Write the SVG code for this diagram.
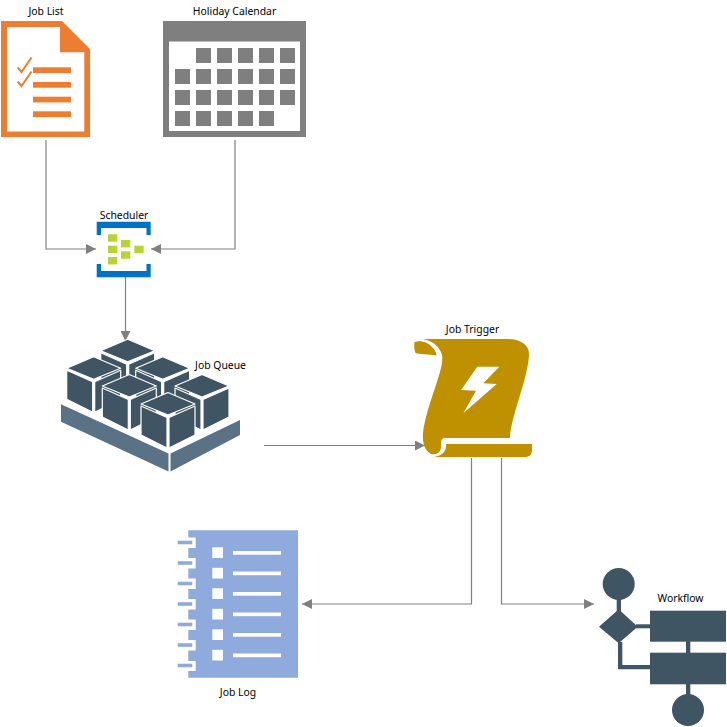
<svg xmlns="http://www.w3.org/2000/svg" width="727" height="727" viewBox="0 0 727 727">
<style>
text{font-family:"Noto Sans","Open Sans","Liberation Sans",sans-serif;font-size:10.4px;fill:#000;text-anchor:middle}
.conn{fill:none;stroke:#808080;stroke-width:1.2}
.orange{fill:#ed7d31}
.gray{fill:#7f7f7f}
.blue{fill:#0072c6}
.green{fill:#b8d432}
.dark{fill:#3f5564}
.log{fill:#8faadc}
.w{fill:#fff}
.cube{fill:#3f5564;stroke:#fff;stroke-width:1.2;stroke-linejoin:round}
</style>
<defs>
<marker id="arrow" markerUnits="userSpaceOnUse" markerWidth="12" markerHeight="10" refX="10" refY="5" orient="auto"><path d="M0 0L10 5L0 10Z" fill="#808080"/></marker>
<g id="cubeShape">
<path class="cube" d="M0 0L27-11.5L54 0L27 11Z"/>
<path class="cube" d="M0 2L26 13.5V44L0 31Z"/>
<path class="cube" d="M54 2L28 13.5V44L54 31Z"/>
</g>
<rect id="cal" width="15" height="15" fill="#7f7f7f"/>
<rect id="gs" width="9.3" height="7.4" fill="#b8d432"/>
<g id="logRow"><path class="log" d="M177.700 0h14.600v3.600h-14.600z"/><rect class="w" x="212.300" y="6.600" width="10.700" height="10.700"/><rect class="w" x="233" y="10.300" width="48" height="3.700"/></g>
</defs>

<g id="connectors">
<path class="conn" marker-end="url(#arrow)" d="M46 140V249H96"/>
<path class="conn" marker-end="url(#arrow)" d="M235 140V249H151"/>
<path class="conn" marker-end="url(#arrow)" d="M125.500 277V341"/>
<path class="conn" marker-end="url(#arrow)" d="M264 445.500H425"/>
<path class="conn" marker-end="url(#arrow)" d="M471.500 458V604H302"/>
<path class="conn" marker-end="url(#arrow)" d="M501.500 458V604H594"/>
</g>

<g id="job-list">
<path class="orange" fill-rule="evenodd" d="M1 21H62L90 49V137H1ZM7 27V131.500H84.300V52.300H60V27Z"/>
<rect class="orange" x="33" y="67.300" width="38" height="5.700"/>
<rect class="orange" x="33" y="82" width="38" height="5.700"/>
<rect class="orange" x="33" y="96.700" width="38" height="5.700"/>
<rect class="orange" x="33" y="111.300" width="38" height="5.700"/>
<path fill="none" stroke="#ed7d31" stroke-width="2" d="M17.700 67.500L21.500 72L31.500 57.500M17.700 81.500L21.500 86L31.500 71.500"/>
<text x="46" y="14.500">Job List</text>
</g>

<g id="holiday-calendar">
<path class="gray" fill-rule="evenodd" d="M163 21H306V137H163ZM169 41.500V131H300V41.500Z"/>
<use href="#cal" x="196" y="48"/><use href="#cal" x="217" y="48"/><use href="#cal" x="238" y="48"/><use href="#cal" x="259" y="48"/><use href="#cal" x="280" y="48"/>
<use href="#cal" x="175" y="69"/><use href="#cal" x="196" y="69"/><use href="#cal" x="217" y="69"/><use href="#cal" x="238" y="69"/><use href="#cal" x="259" y="69"/><use href="#cal" x="280" y="69"/>
<use href="#cal" x="175" y="90"/><use href="#cal" x="196" y="90"/><use href="#cal" x="217" y="90"/><use href="#cal" x="238" y="90"/><use href="#cal" x="259" y="90"/><use href="#cal" x="280" y="90"/>
<use href="#cal" x="175" y="111"/><use href="#cal" x="196" y="111"/><use href="#cal" x="217" y="111"/><use href="#cal" x="238" y="111"/><use href="#cal" x="259" y="111"/>
<text x="234.500" y="14.500">Holiday Calendar</text>
</g>

<g id="scheduler">
<path class="blue" d="M96.700 221.700H150.700V235H146.500V228H101V235H96.700Z"/>
<path class="blue" d="M96.700 264H101V271H146.500V264H150.700V277.300H96.700Z"/>
<use href="#gs" x="108" y="234.300"/><use href="#gs" x="108" y="245.700"/><use href="#gs" x="108" y="257"/>
<use href="#gs" x="121" y="240"/><use href="#gs" x="121" y="251.300"/><use href="#gs" x="134.300" y="245.700"/>
<text x="124" y="218.500">Scheduler</text>
</g>

<g id="job-queue">
<path fill="#5a7286" d="M61 404.300L168.500 453.500V471.500L61 421.700Z"/>
<path fill="#5a7286" d="M170.500 453.500L240 420V435L170.500 471.500Z"/>
<use href="#cubeShape" x="100.700" y="350.700"/>
<use href="#cubeShape" x="66.700" y="368.300"/>
<use href="#cubeShape" x="135.700" y="368.300"/>
<use href="#cubeShape" x="175" y="386"/>
<use href="#cubeShape" x="102.300" y="386"/>
<use href="#cubeShape" x="141" y="404"/>
<text x="220.500" y="368.500">Job Queue</text>
</g>

<g id="job-trigger">
<path fill="#bf9000" d="M423 339H508C522 339 529 346 529 354C529 368 520 395 515 412C512 423 510 431 510 438H445C441 438 441 441 441.500 446C441.500 452 437 455 433 454.500C426 453 422 445 423 433C424 420 431 400 436 385C441 370 443 362 442 355C440 347 433 341 423 339Z"/>
<path fill="#bf9000" d="M414.500 342C420 340 428 342 432 347C435 350 436 352 436.500 355.500C428 354 420 354.500 415.500 353C414 349 414 345 414.500 342Z"/>
<path fill="#bf9000" d="M446 444H532V450C532 455 529 457 525 457H434C441 456 447 452 446 444Z"/>
<path fill="none" stroke="#fff" stroke-width="1.500" d="M445 440.500C442.500 441 441.500 443 441.800 447C442 452 438 455.500 433 455"/>
<path class="w" d="M477.300 366.700H499.300L483.300 383.300L496.700 384L463.300 413.300L476 390.700L461 390Z"/>
<text x="472.500" y="332.700">Job Trigger</text>
</g>

<g id="job-log">
<path class="log" d="M188.300 530.300H298V677.700H188.300V671H195.700V661H188.300V650.500H195.700V640H188.300V630H195.700V619.500H188.300V609.500H195.700V599H188.300V589H195.700V578.500H188.300V568.500H195.700V558H188.300V548H195.700V537.500H188.300Z"/>
<use href="#logRow" y="540.700"/><use href="#logRow" y="561.200"/><use href="#logRow" y="581.700"/><use href="#logRow" y="602.200"/><use href="#logRow" y="622.700"/><use href="#logRow" y="643.200"/>
<path class="log" d="M177.700 663.700h14.600v3.600h-14.600z"/>
<text x="238" y="696">Job Log</text>
</g>

<g id="workflow">
<circle class="dark" cx="618.700" cy="584" r="16"/>
<rect class="dark" x="616.700" y="598" width="4.300" height="14"/>
<path class="dark" d="M599 626.700L618.700 609.300L637.700 626.700L618.700 643.300Z"/>
<rect class="dark" x="636" y="624.300" width="15" height="4"/>
<path class="dark" d="M618 642H622.300V665H651V669.300H618Z"/>
<rect class="dark" x="650" y="610.700" width="76" height="31"/>
<rect class="dark" x="650" y="652.700" width="76" height="31.600"/>
<rect class="dark" x="686" y="641" width="4.300" height="12"/>
<rect class="dark" x="686" y="684" width="4.300" height="12"/>
<circle class="dark" cx="688" cy="710" r="16"/>
<text x="680.500" y="601.700">Workflow</text>
</g>
</svg>
